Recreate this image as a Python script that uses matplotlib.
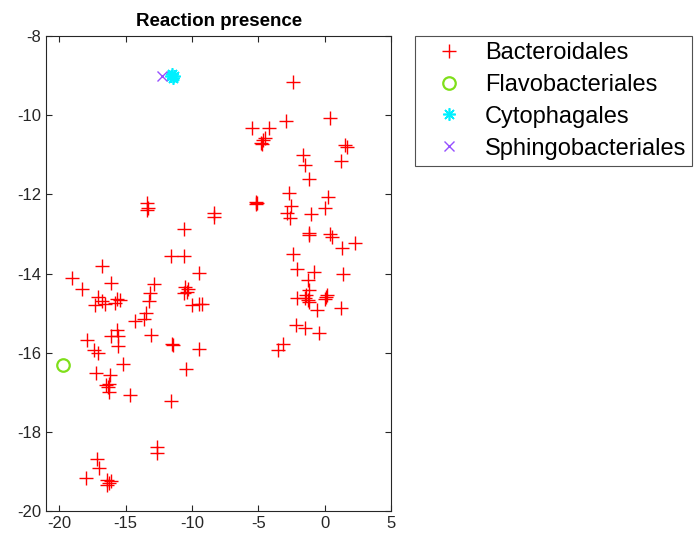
import matplotlib
matplotlib.use('Agg')
import matplotlib.pyplot as plt

plt.rcParams['font.family'] = ['Liberation Sans', 'DejaVu Sans']
plt.rcParams['axes.unicode_minus'] = False

# Bacteroidales
bact_x = [-13.38, -13.3, -13.38, -10.59, -8.35, -8.35, -11.59, -10.59, -16.74, -9.45,
          -19.02, -18.31, -16.07, -12.84, -13.15, -13.25, -10.52, -10.27, -10.62, -10.4,
          -10.01, -9.5, -9.25, -17.05, -16.8, -17.3, -16.58, -15.68, -15.45, -15.8,
          -13.44, -13.62, -14.32, -15.68, -16.06, -15.55, -15.55, -17.87, -17.35, -17.08,
          -13.1, -11.52, -11.4, -9.45, -15.18, -10.46, -17.22, -16.18, -16.5, -16.36,
          -16.24, -16.26, -14.63, -11.6, -12.63, -12.63, -17.13, -16.99, -17.99, -16.38,
          -16.26, -16.13, -16.38,
          -2.41, -5.45, -4.21, -2.96, 0.41, -4.66, -4.78, -4.53, -4.7, 1.53,
          1.63, -1.61, -1.53, 1.21, -1.16, -2.71, -5.2, -5.12, -5.18, -2.53,
          0.21, 0.0, -2.88, -2.66, -1.06, -1.21, -1.21, 0.37, 0.54, 1.29,
          2.3, -2.41, -2.06, -0.79, -1.29, 1.38, -1.16, -1.41, -1.53, -1.29,
          -1.16, -2.11, 0.16, 0.07, 0.0, -0.61, 1.21, -2.18, -1.48, -0.41,
          -3.18, -3.53]
bact_y = [-12.22, -12.35, -12.4, -12.88, -12.47, -12.58, -13.56, -13.56, -13.82, -13.98,
          -14.12, -14.4, -14.23, -14.26, -14.48, -14.7, -14.35, -14.4, -14.5, -14.46,
          -14.8, -14.77, -14.77, -14.6, -14.7, -14.8, -14.78, -14.65, -14.68, -14.75,
          -15.0, -15.16, -15.19, -15.42, -15.59, -15.59, -15.83, -15.67, -15.92, -16.01,
          -15.56, -15.79, -15.81, -15.9, -16.29, -16.4, -16.51, -16.56, -16.81, -16.87,
          -16.8, -16.98, -17.07, -17.23, -18.37, -18.54, -18.69, -18.92, -19.17, -19.21,
          -19.29, -19.25, -19.33,
          -9.17, -10.33, -10.33, -10.15, -10.06, -10.63, -10.69, -10.58, -10.72, -10.75,
          -10.81, -11.0, -11.26, -11.16, -11.61, -11.97, -12.18, -12.22, -12.25, -12.3,
          -12.06, -12.34, -12.46, -12.6, -12.49, -12.97, -13.03, -13.01, -13.07, -13.36,
          -13.24, -13.51, -13.89, -13.95, -14.16, -14.0, -14.41, -14.54, -14.62, -14.67,
          -14.71, -14.62, -14.54, -14.6, -14.64, -14.92, -14.88, -15.3, -15.37, -15.51,
          -15.78, -15.94]

flavo_x = [-19.7]
flavo_y = [-16.32]

cyto_x = [-11.6, -11.45, -11.5, -11.35]
cyto_y = [-9.0, -9.05, -8.97, -9.02]

sphingo_x = [-12.28]
sphingo_y = [-9.0]

fig = plt.figure(figsize=(6.95, 5.46), dpi=100)
ax = fig.add_axes([0.066, 0.064, 0.497, 0.870])

ax.plot(bact_x, bact_y, '+', color='#ff0000', markersize=10, markeredgewidth=1.0,
        linestyle='none', label='Bacteroidales')
ax.plot(flavo_x, flavo_y, 'o', markerfacecolor='none', markeredgecolor='#7fdf1a',
        markersize=9, markeredgewidth=1.6, linestyle='none', label='Flavobacteriales')
# matlab style asterisk: 8 spokes
ax.plot(cyto_x, cyto_y, marker=(8, 2, 0), color='#00f0ff', markersize=9,
        markeredgewidth=1.2, linestyle='none', label='Cytophagales')
ax.plot(sphingo_x, sphingo_y, 'x', color='#9650ff', markersize=7, markeredgewidth=1.0,
        linestyle='none', label='Sphingobacteriales')

ax.set_xlim(-21, 5)
ax.set_ylim(-20, -8)
ax.set_xticks([-20, -15, -10, -5, 0, 5])
ax.set_yticks([-20, -18, -16, -14, -12, -10, -8])
ax.tick_params(direction='in', top=True, right=True, length=4, width=0.8,
               labelsize=12, colors='#262626')
for s in ax.spines.values():
    s.set_color('#262626')
    s.set_linewidth(0.8)
ax.set_title('Reaction presence', fontsize=13.5, fontweight='bold', pad=7)

leg = ax.legend(loc='upper left', bbox_to_anchor=(415 / 695, 1 - 36 / 546),
                bbox_transform=fig.transFigure, fontsize=17, frameon=True,
                fancybox=False, edgecolor='#262626', handlelength=2.4,
                handletextpad=0.3, labelspacing=0.42, borderpad=0.25,
                borderaxespad=0)
leg.get_frame().set_linewidth(0.8)

fig.savefig('out.png', dpi=100)
